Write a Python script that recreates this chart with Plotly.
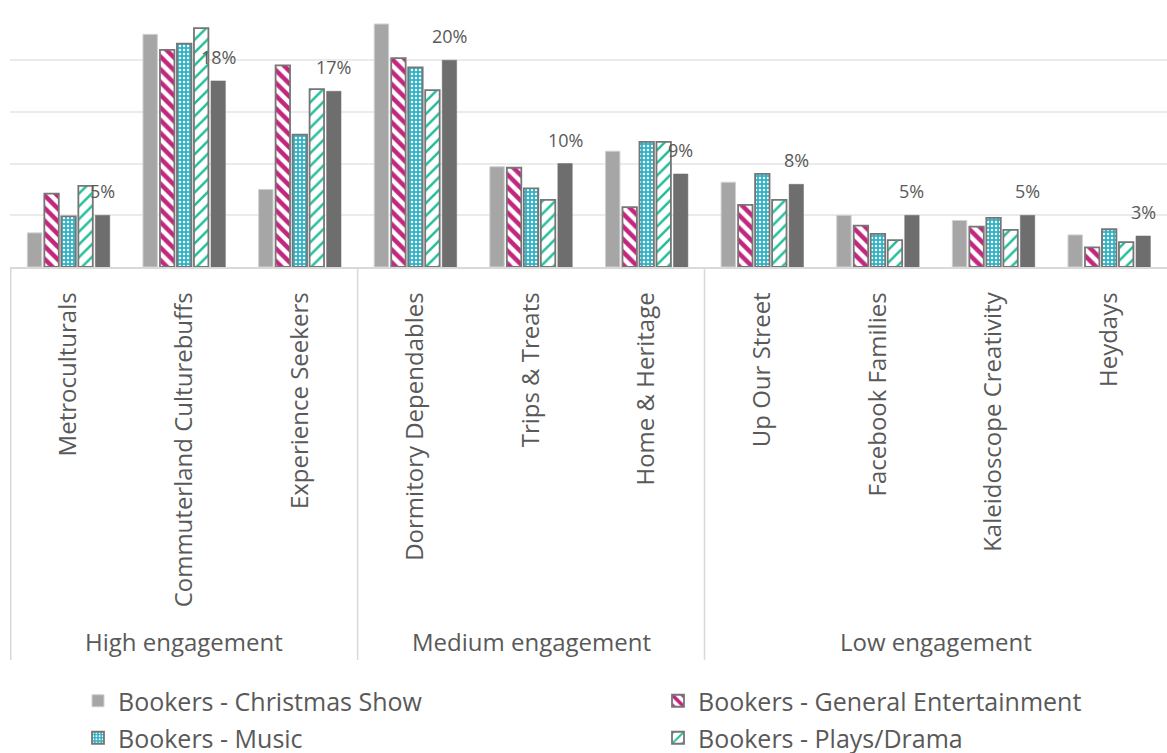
import plotly.graph_objects as go

# Audience segments and their engagement bands
segments = [
    "Metroculturals", "Commuterland Culturebuffs", "Experience Seekers",
    "Dormitory Dependables", "Trips & Treats", "Home & Heritage",
    "Up Our Street", "Facebook Families", "Kaleidoscope Creativity", "Heydays",
]
bands = ["High engagement", "Medium engagement", "Low engagement"]
band_sizes = [3, 3, 4]

# Share of bookers in each segment (%)
christmas_show = [3.3, 22.5, 7.5, 23.5, 9.7, 11.2, 8.2, 5.0, 4.5, 3.1]
general_ent = [7.1, 21.0, 19.5, 20.2, 9.6, 5.8, 6.0, 4.0, 3.9, 1.9]
music = [4.9, 21.6, 12.8, 19.3, 7.6, 12.1, 9.0, 3.2, 4.75, 3.65]
plays_drama = [7.85, 23.1, 17.2, 17.1, 6.5, 12.1, 6.5, 2.6, 3.6, 2.4]
population = [5, 18, 17, 20, 10, 9, 8, 5, 5, 3]

TEXT = "#595959"
FONT = "Open Sans"
EDGE = "#767676"
W, H = 1167, 753

fig = go.Figure()

fig.add_trace(go.Bar(
    x=segments, y=christmas_show, name="Bookers - Christmas Show",
    marker=dict(color="#a6a6a6", line=dict(color="#d0d0d0", width=1)),
    legend="legend",
))
fig.add_trace(go.Bar(
    x=segments, y=general_ent, name="Bookers - General Entertainment",
    marker=dict(color="white", line=dict(color=EDGE, width=1.8),
                pattern=dict(shape="\\", fgcolor="#c2267f", bgcolor="white",
                             size=9, solidity=0.5, fillmode="replace")),
    legend="legend2",
))
fig.add_trace(go.Bar(
    x=segments, y=music, name="Bookers - Music",
    marker=dict(color="#2db3c6", line=dict(color=EDGE, width=1.8),
                pattern=dict(shape=".", fgcolor="white", bgcolor="#2db3c6",
                             size=4, solidity=0.3, fillmode="replace")),
    legend="legend3",
))
fig.add_trace(go.Bar(
    x=segments, y=plays_drama, name="Bookers - Plays/Drama",
    marker=dict(color="white", line=dict(color=EDGE, width=1.8),
                pattern=dict(shape="/", fgcolor="#22be9b", bgcolor="white",
                             size=9, solidity=0.28, fillmode="replace")),
    legend="legend4",
))
fig.add_trace(go.Bar(
    x=segments, y=population, name="Population",
    marker=dict(color="#6e6e6e", line=dict(color="#6e6e6e", width=0.5)),
    showlegend=False,
))

# Value labels above the population bars
for seg, v in zip(segments, population):
    fig.add_annotation(
        x=seg, y=v, xref="x", yref="y", text=f"{v:.0f}%", showarrow=False,
        xshift=34, yshift=24, font=dict(family=FONT, size=18, color=TEXT),
    )

# Band labels and divider lines of the category table
PLOT_TOP, PLOT_BOTTOM = 8, 267
plot_h = PLOT_BOTTOM - PLOT_TOP


def py(px):
    return (PLOT_BOTTOM - px) / plot_h


start = 0
line_style = dict(color="#d9d9d9", width=1.5)
for band, n in zip(bands, band_sizes):
    fig.add_annotation(
        x=start + (n - 1) / 2, y=py(641), xref="x", yref="paper", text=band,
        showarrow=False, yanchor="middle",
        font=dict(family=FONT, size=24, color=TEXT),
    )
    fig.add_shape(type="line", xref="x", yref="paper",
                  x0=start - 0.5, x1=start - 0.5, y0=0, y1=py(660),
                  line=line_style)
    start += n

legend_font = dict(family=FONT, size=25, color=TEXT)


def legend_box(left_px, center_px):
    return dict(
        orientation="h", xref="container", yref="container",
        x=left_px / W, xanchor="left", y=1 - center_px / H, yanchor="middle",
        font=legend_font, bgcolor="rgba(0,0,0,0)",
    )


fig.update_layout(
    width=W, height=H,
    margin=dict(l=10, r=0, t=PLOT_TOP, b=H - PLOT_BOTTOM, autoexpand=False),
    paper_bgcolor="white", plot_bgcolor="white",
    barmode="group", bargap=0.265, bargroupgap=0.15,
    font=dict(family=FONT, color=TEXT),
    xaxis=dict(
        tickangle=-90, tickfont=dict(family=FONT, size=24, color=TEXT),
        showline=True, linecolor="#d9d9d9", linewidth=1.5,
        ticks="", ticklabelstandoff=14, showgrid=False, automargin=False,
    ),
    yaxis=dict(
        range=[0, 25.05], dtick=5, showticklabels=False, zeroline=False,
        showgrid=True, gridcolor="#ebebeb", gridwidth=1.5, automargin=False,
    ),
    legend=legend_box(78, 701),
    legend2=legend_box(658, 701),
    legend3=legend_box(78, 738),
    legend4=legend_box(658, 738),
)

fig.write_html("out.html")
